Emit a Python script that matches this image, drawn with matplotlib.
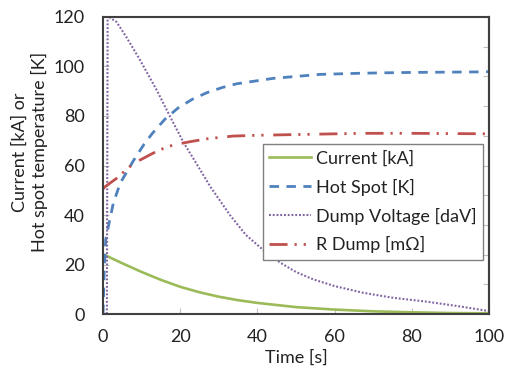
import matplotlib
matplotlib.use("Agg")
import matplotlib.pyplot as plt

plt.rcParams['font.family'] = ['Lato', 'DejaVu Sans']

# --- data ---
t_current = [0, 0.5, 5, 10, 15, 20, 25, 30, 35, 40, 50, 60, 70, 80, 90, 100]
current = [24, 23.8, 20.5, 17, 13.8, 11, 8.8, 7, 5.6, 4.5, 2.8, 1.8, 1.1, 0.7, 0.4, 0.3]

t_hot = [0, 0.3, 0.7, 1.6, 2.7, 4.5, 7.9, 10.6, 12.8, 16.1, 19.5, 23.2, 26.9, 30.9,
         34.6, 44.1, 56.2, 67.4, 80, 96.8, 100]
hot_spot = [0, 17, 30, 37, 45, 53, 62, 68.5, 73, 78.8, 83.3, 86.8, 89.4, 91.5,
            93.0, 95.2, 96.8, 97.3, 97.6, 97.8, 97.9]

t_volt = [1, 1.2, 1.5, 3.5, 6, 9.6, 13.9, 17.4, 20.8, 24.7, 28, 32.9, 37, 41.5,
          45.9, 50, 54.5, 60, 67.4, 75, 83.9, 92, 100]
dump_voltage = [0, 122, 120, 118, 112, 102.6, 90.5, 79.7, 69.5, 59.5, 51, 40, 32, 25.9,
                20.8, 17, 14, 11.3, 8.6, 6.6, 5, 3.2, 1.2]

t_rdump = [0, 0.5, 3.5, 5.3, 7, 9.1, 13, 15.2, 18, 22.5, 27, 33.8, 40, 50, 57, 67.4, 80, 100]
r_dump = [50.5, 51.4, 54.8, 57.3, 59.6, 61.8, 65.0, 66.6, 68.2, 69.6, 70.8, 71.9, 72.2, 72.5,
          72.7, 73, 73, 72.8]

x_ticks = [0, 20, 40, 60, 80, 100]
y_ticks = [0, 20, 40, 60, 80, 100, 120]

fig = plt.figure(figsize=(5.05, 3.77), dpi=100)
ax = fig.add_axes([0.204, 0.167, 0.764, 0.788])

ax.plot(t_current, current, color='#9BBB59', lw=1.9, label='Current [kA]')
ax.plot(t_hot, hot_spot, color='#4F81BD', lw=2.0, linestyle=(0, (3.4, 2.7)),
        label='Hot Spot [K]')
ax.plot(t_volt, dump_voltage, color='#8064A2', lw=1.5, linestyle=(0, (0.9, 0.9)),
        label='Dump Voltage [daV]')
ax.plot(t_rdump, r_dump, color='#C0504D', lw=2.0,
        linestyle=(0, (6.5, 2.5, 0.8, 2.5, 0.8, 3.5)), label='R Dump [m\u03a9]')

ax.set_xlim(0, 100)
ax.set_ylim(0, 120)
ax.set_xticks(x_ticks)
ax.set_yticks(y_ticks)
ax.tick_params(direction='in', length=4, color='#bfbfbf', labelsize=13,
               labelcolor='#222222')
ax.tick_params(axis='x', pad=11)
ax.tick_params(axis='y', pad=13)

# right-hand tick marks (no labels)
sec = ax.secondary_yaxis('right')
sec.set_yticks(list(range(0, 121, 12)))
sec.tick_params(direction='in', length=4, color='#bfbfbf', labelright=False)

for s in ax.spines.values():
    s.set_color('#404040')
    s.set_linewidth(1.5)
sec.spines['right'].set_color('#404040')
sec.spines['right'].set_linewidth(1.5)

ax.set_xlabel('Time [s]', fontsize=13, labelpad=3, color='#222222')
ax.set_ylabel('Current [kA] or\nHot spot temperature [K]', fontsize=13,
              linespacing=1.25, color='#222222')
ax.yaxis.set_label_coords(-0.142, 0.545)

leg = ax.legend(loc='upper left', bbox_to_anchor=(0.415, 0.572), borderaxespad=0,
                fontsize=13, handlelength=2.3, labelspacing=0.66, fancybox=False,
                framealpha=1, edgecolor='#808080', handletextpad=0.3, borderpad=0.35)
leg.get_frame().set_linewidth(1.0)
for txt in leg.get_texts():
    txt.set_color('#222222')

fig.savefig('out.png', dpi=100)
